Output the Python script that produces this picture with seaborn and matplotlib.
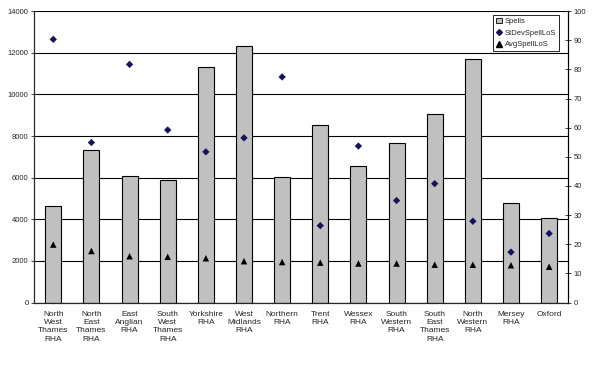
import numpy as np
import pandas as pd
import matplotlib
matplotlib.use("Agg")
import matplotlib.pyplot as plt
import seaborn as sns
from matplotlib.patches import Patch
from matplotlib.lines import Line2D

regions = ["North\nWest\nThames\nRHA", "North\nEast\nThames\nRHA", "East\nAnglian\nRHA",
           "South\nWest\nThames\nRHA", "Yorkshire\nRHA", "West\nMidlands\nRHA", "Northern\nRHA",
           "Trent\nRHA", "Wessex\nRHA", "South\nWestern\nRHA", "South\nEast\nThames\nRHA",
           "North\nWestern\nRHA", "Mersey\nRHA", "Oxford"]
spells = [4650, 7350, 6100, 5900, 11300, 12300, 6050, 8550, 6550, 7650, 9050, 11700, 4800, 4050]
stdev_los = [90.3, 54.9, 81.7, 59.2, 51.7, 56.5, 77.4, 26.4, 53.7, 35.0, 40.8, 27.9, 17.3, 23.7]
avg_los = [19.9, 17.7, 15.9, 15.7, 15.2, 14.2, 13.9, 13.7, 13.4, 13.4, 13.0, 13.0, 12.8, 12.3]

df = pd.DataFrame({"region": regions, "Spells": spells,
                   "StDevSpellLoS": stdev_los, "AvgSpellLoS": avg_los})
df["pos"] = np.arange(len(df))

sns.set_style("white")
plt.rcParams['font.family'] = ['Liberation Sans', 'DejaVu Sans']

fig = plt.figure(figsize=(6, 3.69), dpi=100)
ax = fig.add_axes([0.057, 0.18, 0.89, 0.79])

sns.barplot(data=df, x="region", y="Spells", color="#c0c0c0", edgecolor="black",
            linewidth=0.8, width=0.42, saturation=1, ax=ax, zorder=2)
ax.set_ylim(0, 14000)
ax.set_yticks(np.arange(0, 14001, 2000))
ax.yaxis.grid(True, color="black", linewidth=0.8)
ax.set_axisbelow(True)
ax.set_xlim(-0.5, len(df) - 0.5)
ax.set_xlabel("")
ax.set_ylabel("")
ax.tick_params(axis="y", labelsize=5.5, direction="inout", length=4, width=0.6, pad=2)
ax.tick_params(axis="x", which="major", length=0, labelsize=6, pad=6)
for lbl in ax.get_xticklabels():
    lbl.set_linespacing(1.25)
ax.set_xticks(np.arange(-0.5, len(df), 1), minor=True)
ax.tick_params(axis="x", which="minor", direction="out", length=3, width=0.6)
for s in ["left", "bottom", "right"]:
    ax.spines[s].set_color("black")
    ax.spines[s].set_linewidth(0.8)
ax.spines["top"].set_visible(False)

ax2 = ax.twinx()
sns.scatterplot(data=df, x="pos", y="StDevSpellLoS", marker="D", s=14, color="#14145a",
                edgecolor="none", ax=ax2, zorder=3)
sns.scatterplot(data=df, x="pos", y="AvgSpellLoS", marker="^", s=22, color="black",
                edgecolor="none", ax=ax2, zorder=3)
ax2.set_ylim(0, 100)
ax2.set_yticks(np.arange(0, 101, 10))
ax2.set_ylabel("")
ax2.set_xlabel("")
ax2.set_xlim(-0.5, len(df) - 0.5)
ax2.tick_params(axis="y", labelsize=5.5, direction="inout", length=4, width=0.6, pad=2)
ax2.spines["top"].set_visible(False)
ax2.spines["right"].set_linewidth(0.8)
ax2.spines["right"].set_color("black")

handles = [Patch(facecolor="#c0c0c0", edgecolor="black", linewidth=0.6, label="Spells"),
           Line2D([], [], marker="D", color="#14145a", linestyle="none", markersize=3, label="StDevSpellLoS"),
           Line2D([], [], marker="^", color="black", linestyle="none", markersize=4, label="AvgSpellLoS")]
leg = ax2.legend(handles=handles, loc="upper right", bbox_to_anchor=(0.99, 1.0), fontsize=5.5,
                 frameon=True, fancybox=False, edgecolor="black", framealpha=1,
                 handlelength=0.8, handletextpad=0.3, borderpad=0.4, labelspacing=0.55)
leg.get_frame().set_linewidth(0.6)

fig.savefig("out.png", dpi=100)
